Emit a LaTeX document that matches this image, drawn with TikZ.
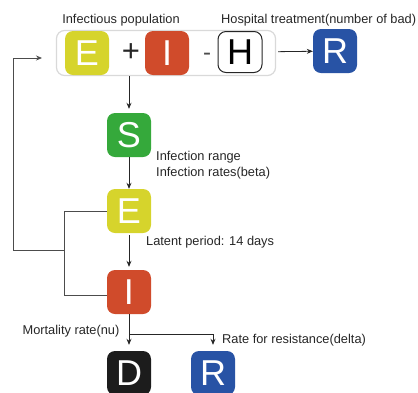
\documentclass[tikz,border=0pt]{standalone}
\usepackage{fontspec}
\setmainfont{Liberation Sans}
\usetikzlibrary{arrows.meta}
\definecolor{cE}{HTML}{D6D42C}
\definecolor{cI}{HTML}{D04B2B}
\definecolor{cS}{HTML}{35A93B}
\definecolor{cR}{HTML}{2853A5}
\definecolor{cD}{HTML}{1C1C1C}
\begin{document}
\begin{tikzpicture}[x=1pt,y=-1pt,
    box/.style={rounded corners=8pt,minimum width=44pt,minimum height=44pt,inner sep=0pt,text=white,font=\fontsize{36}{36}\selectfont},
    lbl/.style={text=black!85,font=\fontsize{12.8}{14}\selectfont,inner sep=0pt},
    arr/.style={-{Stealth[length=6pt,width=5pt]},black!85,line width=0.8pt},
    fb/.style={black!70,line width=0.8pt}]
      \useasboundingbox (0,0) rectangle (418,392);
      % top row
      \node[draw=black!15,line width=1.2pt,rounded corners=8pt,minimum width=219pt,minimum height=45pt] (pop) at (166,53) {};
      \node[box,fill=cE] (e1) at (87,53) {E};
      \node[font=\fontsize{31}{31}\selectfont,inner sep=0pt,text=black!85] (plus) at (131,53) {+};
      \node[font=\fontsize{24}{24}\selectfont,inner sep=0pt,text=black!70] (minus) at (207,57) {-};
      \node[box,fill=cI] (i1) at (167,53) {I};
      \node[box,fill=white,draw=black!85,line width=1pt,text=black,minimum height=41pt] (h1) at (240,52) {H};
      \node[box,fill=cR] (r1) at (335,51) {R};
      \node[lbl] (lpop) at (121,20) {Infectious population};
      \node[lbl,anchor=west] (lhos) at (221,20) {Hospital treatment(number of bad)};
      \draw[arr,shorten <=2pt] (pop) -- (r1);
      % chain
      \node[box,fill=cS] (s2) at (129,135) {S};
      \node[box,fill=cE] (e2) at (129,211) {E};
      \node[box,fill=cI] (i2) at (129,292) {I};
      \node[box,fill=cD] (d3) at (129,373) {D};
      \node[box,fill=cR] (r3) at (213,373) {R};
      \draw[arr,shorten >=4pt] (pop.south -| s2) -- (s2);
      \draw[arr] (s2) -- (e2);
      \draw[arr,shorten <=2pt,shorten >=3pt] (e2) -- (i2);
      \node[lbl,anchor=west] (linf) at (156,157) {Infection range};
      \node[lbl,anchor=west] (lbeta) at (156,173) {Infection rates(beta)};
      \node[lbl,anchor=west] (llat) at (146,242) {Latent period: 14 days};
      % feedback
      \coordinate (back) at (64,250);
      \coordinate (in) at (42,58);
      \draw[fb] (e2.west) -- (64,211) |- ([yshift=-3pt]i2.west);
      \draw[fb,-{Stealth[length=6pt,width=5pt]}] (back) -- (13,250) -- (13,58) -- (in);
      % outcomes
      \coordinate (split) at (129,334);
      \draw[fb,black!85] (i2) -- (split);
      \draw[arr,shorten >=6pt] (split) -- (d3);
      \draw[arr,shorten >=6pt] (split) -| (r3);
      \node[lbl] (lmor) at (71,331) {Mortality rate(nu)};
      \node[lbl,anchor=west] (lres) at (222,340) {Rate for resistance(delta)};
\end{tikzpicture}
\end{document}
